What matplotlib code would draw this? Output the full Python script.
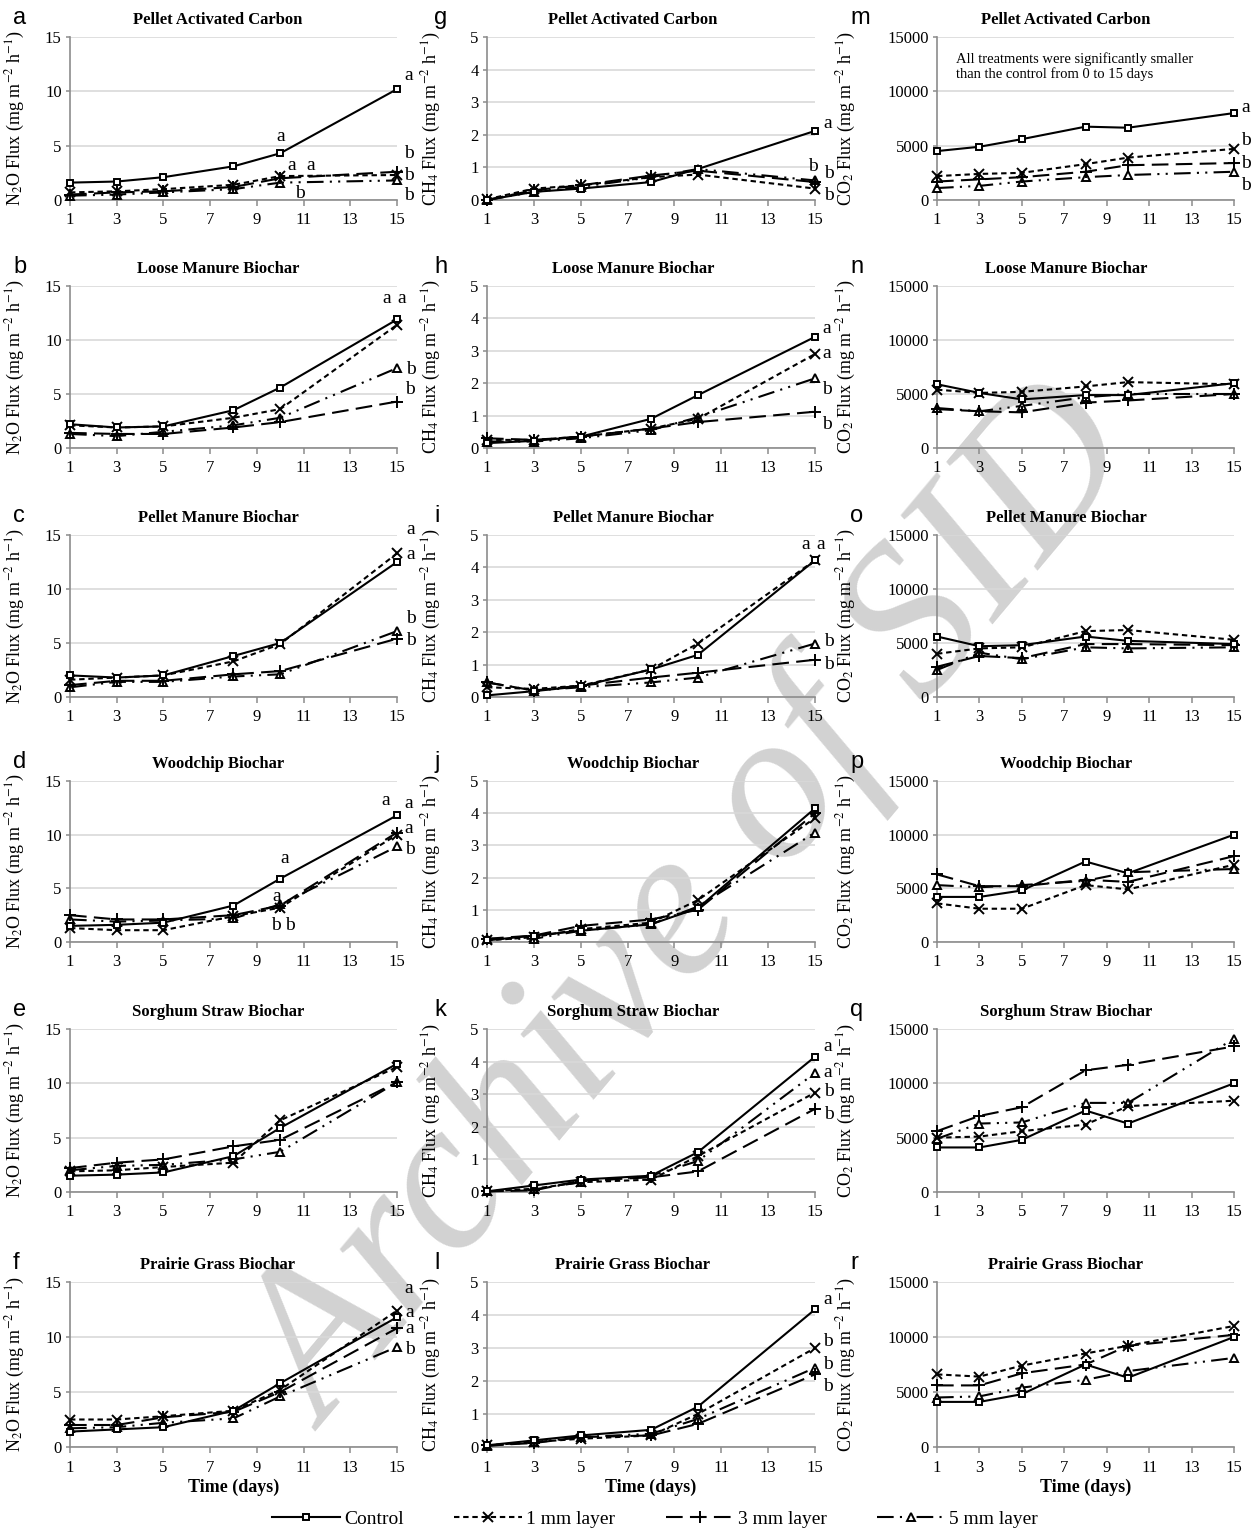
import numpy as np
import matplotlib.pyplot as plt
from matplotlib.lines import Line2D

plt.rcParams['font.family'] = ['Liberation Serif', 'DejaVu Serif']
plt.rcParams['mathtext.fontset'] = 'stix'

days = [1, 3, 5, 8, 10, 15]
treatments = ['Control', '1 mm layer', '3 mm layer', '5 mm layer']
materials = ['Pellet Activated Carbon', 'Loose Manure Biochar', 'Pellet Manure Biochar',
             'Woodchip Biochar', 'Sorghum Straw Biochar', 'Prairie Grass Biochar']

# each panel: control, 1 mm, 3 mm, 5 mm
n2o_pac = [[1.6, 1.7, 2.1, 3.1, 4.3, 10.2], [0.7, 0.8, 1.0, 1.4, 2.2, 2.3],
           [0.5, 0.7, 0.8, 1.2, 2.0, 2.6], [0.4, 0.5, 0.7, 1.0, 1.6, 1.8]]
n2o_lmb = [[2.2, 1.9, 2.0, 3.5, 5.6, 11.9], [2.1, 1.9, 2.0, 2.8, 3.6, 11.4],
           [1.4, 1.3, 1.3, 1.9, 2.4, 4.3], [1.3, 1.1, 1.5, 2.1, 2.8, 7.4]]
n2o_pmb = [[2.0, 1.8, 2.0, 3.8, 5.0, 12.5], [1.6, 1.8, 2.0, 3.3, 4.9, 13.3],
           [1.1, 1.5, 1.5, 2.1, 2.4, 5.4], [0.9, 1.4, 1.4, 1.9, 2.1, 6.1]]
n2o_wcb = [[1.5, 1.6, 1.8, 3.4, 5.9, 11.8], [1.3, 1.1, 1.1, 2.4, 3.2, 10.0],
           [2.5, 2.1, 2.1, 2.5, 3.4, 10.2], [2.1, 1.9, 2.0, 2.2, 3.5, 8.9]]
n2o_ssb = [[1.5, 1.6, 1.8, 3.3, 5.9, 11.8], [1.9, 2.0, 2.3, 2.7, 6.6, 11.5],
           [2.2, 2.7, 3.0, 4.2, 4.8, 10.1], [2.0, 2.4, 2.5, 3.0, 3.7, 10.1]]
n2o_pgb = [[1.4, 1.6, 1.8, 3.3, 5.8, 11.8], [2.5, 2.5, 2.8, 3.3, 5.2, 12.4],
           [2.0, 2.0, 2.7, 3.2, 5.0, 10.8], [1.7, 1.8, 2.2, 2.6, 4.6, 9.1]]

ch4_pac = [[0.0, 0.25, 0.35, 0.55, 0.95, 2.12], [0.02, 0.35, 0.45, 0.7, 0.78, 0.35],
           [0.0, 0.3, 0.45, 0.75, 0.9, 0.55], [0.0, 0.25, 0.4, 0.7, 0.95, 0.6]]
ch4_lmb = [[0.15, 0.22, 0.35, 0.9, 1.63, 3.43], [0.25, 0.25, 0.35, 0.6, 0.9, 2.9],
           [0.3, 0.25, 0.35, 0.6, 0.8, 1.12], [0.2, 0.2, 0.3, 0.55, 0.95, 2.15]]
ch4_pmb = [[0.05, 0.18, 0.33, 0.85, 1.3, 4.22], [0.3, 0.25, 0.35, 0.85, 1.65, 4.22],
           [0.45, 0.2, 0.35, 0.6, 0.75, 1.15], [0.45, 0.2, 0.3, 0.45, 0.6, 1.65]]
ch4_wcb = [[0.05, 0.2, 0.35, 0.55, 1.05, 4.15], [0.05, 0.15, 0.4, 0.6, 1.3, 3.85],
           [0.1, 0.2, 0.5, 0.7, 1.0, 4.0], [0.1, 0.1, 0.35, 0.55, 1.1, 3.4]]
ch4_ssb = [[0.02, 0.2, 0.38, 0.5, 1.22, 4.15], [0.02, 0.1, 0.3, 0.38, 1.1, 3.05],
           [0.02, 0.05, 0.35, 0.45, 0.63, 2.55], [0.02, 0.08, 0.3, 0.5, 0.95, 3.65]]
ch4_pgb = [[0.05, 0.2, 0.35, 0.52, 1.22, 4.17], [0.05, 0.15, 0.25, 0.35, 1.0, 3.0],
           [0.05, 0.12, 0.3, 0.35, 0.7, 2.2], [0.03, 0.15, 0.3, 0.4, 0.85, 2.4]]

co2_pac = [[4500, 4900, 5600, 6750, 6650, 8000], [2200, 2400, 2500, 3300, 3900, 4700],
           [1700, 1900, 2100, 2600, 3200, 3400], [1100, 1300, 1700, 2100, 2300, 2600]]
co2_lmb = [[5900, 5100, 4500, 4900, 4900, 6000], [5400, 5100, 5200, 5700, 6100, 5900],
           [3600, 3400, 3300, 4200, 4400, 5000], [3700, 3400, 3900, 4700, 5000, 5000]]
co2_pmb = [[5600, 4700, 4800, 5600, 5200, 4900], [4000, 4500, 4600, 6100, 6200, 5300],
           [2800, 3800, 3600, 4900, 4900, 4800], [2500, 4100, 3500, 4600, 4500, 4600]]
co2_wcb = [[4200, 4200, 4800, 7500, 6400, 10000], [3600, 3100, 3100, 5300, 4900, 7200],
           [6300, 5200, 5200, 5800, 5600, 8000], [5300, 5100, 5300, 5700, 6500, 6800]]
co2_ssb = [[4100, 4100, 4800, 7500, 6300, 10000], [5000, 5100, 5600, 6200, 7900, 8400],
           [5600, 7000, 7800, 11200, 11700, 13400], [4900, 6300, 6400, 8200, 8200, 14100]]
co2_pgb = [[4100, 4100, 4800, 7500, 6300, 10000], [6600, 6400, 7400, 8500, 9200, 11000],
           [5600, 5600, 6700, 7500, 9200, 10200], [4500, 4600, 5400, 6100, 6900, 8100]]

n2o_panels = [n2o_pac, n2o_lmb, n2o_pmb, n2o_wcb, n2o_ssb, n2o_pgb]
ch4_panels = [ch4_pac, ch4_lmb, ch4_pmb, ch4_wcb, ch4_ssb, ch4_pgb]
co2_panels = [co2_pac, co2_lmb, co2_pmb, co2_wcb, co2_ssb, co2_pgb]

# significance letters (x, y, letter)
n2o_letters = [
    [(10, 5.85, 'a'), (10.5, 3.2, 'a'), (11.3, 3.2, 'a'), (10.85, 0.6, 'b'),
     (15.5, 11.5, 'a'), (15.5, 4.3, 'b'), (15.5, 2.3, 'b'), (15.5, 0.4, 'b')],
    [(14.55, 13.8, 'a'), (15.2, 13.8, 'a'), (15.58, 7.3, 'b'), (15.55, 5.4, 'b')],
    [(15.57, 15.5, 'a'), (15.57, 13.2, 'a'), (15.58, 7.3, 'b'), (15.58, 5.2, 'b')],
    [(10.2, 7.8, 'a'), (9.84, 4.2, 'a'), (9.8, 1.5, 'b'), (10.4, 1.5, 'b'),
     (14.5, 13.2, 'a'), (15.5, 12.9, 'a'), (15.5, 10.6, 'a'), (15.56, 8.6, 'b')],
    [],
    [(15.5, 14.4, 'a'), (15.55, 12.2, 'a'), (15.55, 10.8, 'a'), (15.55, 8.9, 'b')],
]
ch4_letters = [
    [(15.56, 2.34, 'a'), (14.9, 1.03, 'b'), (15.6, 0.82, 'b'), (15.6, 0.14, 'b')],
    [(15.5, 3.7, 'a'), (15.5, 2.93, 'a'), (15.5, 1.8, 'b'), (15.5, 0.72, 'b')],
    [(14.6, 4.7, 'a'), (15.25, 4.7, 'a'), (15.6, 1.72, 'b'), (15.6, 1.0, 'b')],
    [],
    [(15.56, 4.47, 'a'), (15.56, 3.66, 'a'), (15.6, 3.08, 'b'), (15.6, 2.39, 'b')],
    [(15.56, 4.48, 'a'), (15.56, 3.2, 'b'), (15.56, 2.5, 'b'), (15.56, 1.84, 'b')],
]
co2_letters = [
    [(15.57, 8550, 'a'), (15.57, 5450, 'b'), (15.57, 3330, 'b'), (15.57, 1360, 'b')],
    [], [], [], [], [],
]

styles = [
    dict(ls='-', marker='s', ms=4.5, mfc='white', dashes=()),
    dict(ls='--', marker='x', ms=6.5, mfc='black', dashes=(2.6, 1.8)),
    dict(ls='--', marker='+', ms=9, mfc='black', dashes=(8, 3.5)),
    dict(ls='--', marker='^', ms=6, mfc='white', dashes=(8, 3, 1, 3, 1, 3)),
]

W, H = 1255, 1531
fig = plt.figure(figsize=(W / 100, H / 100), dpi=100)

# watermark behind the panels
fig.text(0.555, 0.405, 'Archive of SID', rotation=50, fontsize=155, color='#d2d2d2',
         style='italic', ha='center', va='center', zorder=-5)

cols_lr = [(70, 397), (487, 815), (937, 1234)]
rows_tb = [(37, 200), (286, 448), (535, 697), (781, 942), (1029, 1192), (1282, 1447)]
title_x = [218, 633, 1066]
letter_x = [13, 434, 850]
panel_letters = ['abcdef', 'ghijkl', 'mnopqr']
ylabels = [r'N$_2$O Flux (mg m$^{-2}$ h$^{-1}$)', r'CH$_4$ Flux (mg m$^{-2}$ h$^{-1}$)',
           r'CO$_2$ Flux (mg m$^{-2}$ h$^{-1}$)']
ylab_x = [-0.13, -0.135, -0.265]
ymax = [15, 5, 15000]
ystep = [5, 1, 5000]
gas_panels = [n2o_panels, ch4_panels, co2_panels]
gas_letters = [n2o_letters, ch4_letters, co2_letters]

for c in range(3):
    l, r = cols_lr[c]
    for i in range(6):
        t, b = rows_tb[i]
        ax = fig.add_axes([l / W, 1 - b / H, (r - l) / W, (b - t) / H])
        ax.patch.set_visible(False)
        for k in range(4):
            st = styles[k]
            ln, = ax.plot(days, gas_panels[c][i][k], color='black', lw=1.5, ls=st['ls'],
                          marker=st['marker'], ms=st['ms'], mfc=st['mfc'], mec='black',
                          mew=1.4, clip_on=False, zorder=3 + (3 - k))
            if st['dashes']:
                ln.set_dashes(st['dashes'])
        ax.set_xlim(1, 15)
        ax.set_ylim(0, ymax[c])
        ax.set_xticks(np.arange(1, 16, 2))
        ax.set_yticks(np.arange(0, ymax[c] + ystep[c] / 2, ystep[c]))
        ax.yaxis.grid(True, color='#d9d9d9', lw=1.2)
        ax.set_axisbelow(True)
        for s in ['top', 'right']:
            ax.spines[s].set_visible(False)
        for s in ['left', 'bottom']:
            ax.spines[s].set_color('#8c8c8c')
            ax.spines[s].set_linewidth(1.2)
        ax.tick_params(axis='x', direction='out', length=4, width=1.1, color='#8c8c8c',
                       labelsize=12, pad=5)
        ax.tick_params(axis='y', direction='out', length=3, width=1.1, color='#8c8c8c',
                       labelsize=12, pad=3)
        ax.set_ylabel(ylabels[c], fontsize=13)
        ax.yaxis.set_label_coords(ylab_x[c], 0.5)
        for (lx, ly, txt) in gas_letters[c][i]:
            ax.text(lx, ly, txt, fontsize=14, ha='center', va='center', clip_on=False)
        ybase = 1 - (t - 13) / H
        fig.text(title_x[c] / W, ybase, materials[i], fontsize=12, fontweight='bold',
                 ha='center', va='baseline')
        fig.text(letter_x[c] / W, ybase, panel_letters[c][i], fontsize=17,
                 family='Liberation Sans', ha='left', va='baseline')
        if i == 5:
            ax.set_xlabel('Time (days)', fontsize=13, fontweight='bold', labelpad=2)
        if c == 2 and i == 0:
            ax.text(1.9, 13600, 'All treatments were significantly smaller\n'
                    'than the control from 0 to 15 days', fontsize=10.5,
                    ha='left', va='top', linespacing=1.1)

handles = []
for k in range(4):
    st = styles[k]
    h = Line2D([], [], color='black', lw=1.5, ls=st['ls'], marker=st['marker'],
               ms=st['ms'], mfc=st['mfc'], mec='black', mew=1.4)
    if st['dashes']:
        h.set_dashes(st['dashes'])
    handles.append(h)
fig.legend(handles, treatments, loc='center', bbox_to_anchor=(0.522, 0.008), ncol=4,
           frameon=False, fontsize=14, handlelength=3.5, handletextpad=0.2,
           columnspacing=2.6)

fig.savefig('out.png', dpi=100)
